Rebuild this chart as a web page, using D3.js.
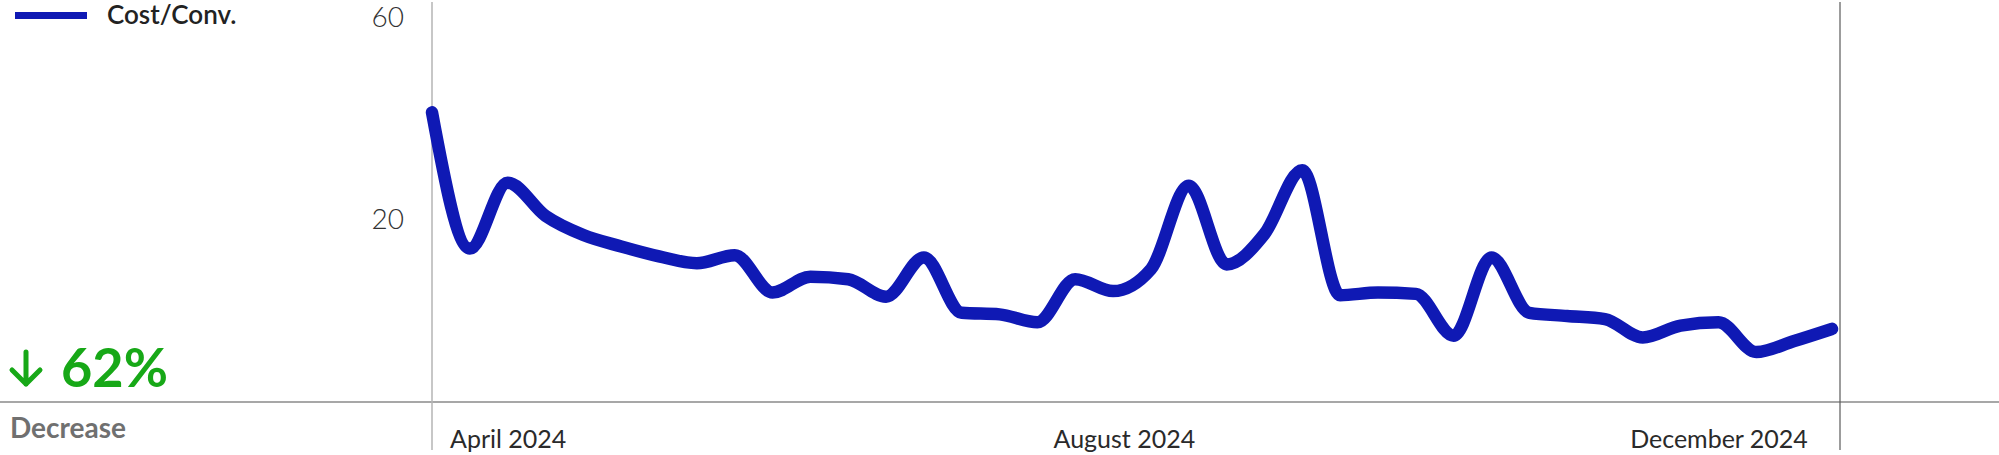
<!DOCTYPE html>
<html>
<head>
<meta charset="utf-8">
<script src="https://cdn.jsdelivr.net/npm/d3@7"></script>
<style>
  html, body { margin: 0; padding: 0; background: #ffffff; }
  svg { display: block; }
  text { font-family: Lato, "Noto Sans", sans-serif; }
</style>
</head>
<body>
<svg id="chart" width="1999" height="455"></svg>
<script>
// ---- data ----
const weeks = [
  "2024-04-08","2024-04-15","2024-04-22","2024-04-29","2024-05-06","2024-05-13","2024-05-20","2024-05-27",
  "2024-06-03","2024-06-10","2024-06-17","2024-06-24","2024-07-01","2024-07-08","2024-07-15","2024-07-22",
  "2024-07-29","2024-08-05","2024-08-12","2024-08-19","2024-08-26","2024-09-02","2024-09-09","2024-09-16",
  "2024-09-23","2024-09-30","2024-10-07","2024-10-14","2024-10-21","2024-10-28","2024-11-04","2024-11-11",
  "2024-11-18","2024-11-25","2024-12-02","2024-12-09","2024-12-16","2024-12-23"
];
const costPerConv = [
  35.6, 17.0, 24.3, 20.3, 18.3, 17.2, 16.3, 15.7, 16.4, 13.4, 14.6, 14.4, 13.1,
  16.2, 12.0, 11.9, 11.4, 14.4, 13.5, 15.2, 23.9, 15.6, 18.4, 26.0, 13.2, 13.4,
  13.3, 10.6, 16.2, 12.0, 11.8, 11.6, 10.5, 11.2, 11.4, 9.7, 10.3, 11.0
];
const seriesName = "Cost/Conv.";
const yTickValues = [20, 60];
const xTickDates = ["2024-04-22", "2024-08-14", "2024-12-02"];
const changeLabel = "62%";
const changeCaption = "Decrease";

// ---- layout ----
const W = 1999, H = 455;
const baseY = 402;
const plotLeft = 432, plotRight = 1832, frameRight = 1840;
const lineColor = "#0f19b4";

const parse = d3.timeParse("%Y-%m-%d");
const data = weeks.map((w, i) => ({ date: parse(w), value: costPerConv[i] }));

const svg = d3.select("#chart");

const x = d3.scaleTime()
  .domain(d3.extent(data, d => d.date))
  .range([plotLeft, plotRight]);

const y = d3.scaleLog()
  .domain([7.4, 60])
  .range([baseY, 16]);

// frame lines
svg.append("line")
  .attr("x1", 0).attr("x2", W)
  .attr("y1", baseY).attr("y2", baseY)
  .attr("stroke", "#8a8a8a").attr("stroke-width", 1.5);
svg.append("line")
  .attr("x1", plotLeft).attr("x2", plotLeft)
  .attr("y1", 2).attr("y2", 450)
  .attr("stroke", "#b5b5b5").attr("stroke-width", 1.5);
svg.append("line")
  .attr("x1", frameRight).attr("x2", frameRight)
  .attr("y1", 2).attr("y2", 450)
  .attr("stroke", "#5a5a5a").attr("stroke-width", 1.2);

// y axis
const yAxis = svg.append("g")
  .attr("transform", `translate(${plotLeft},0)`)
  .call(d3.axisLeft(y).tickValues(yTickValues).tickSize(0).tickPadding(28).tickFormat(d3.format("d")));
yAxis.select(".domain").remove();
yAxis.selectAll("text")
  .attr("font-family", "Lato, sans-serif")
  .attr("font-size", 28)
  .attr("font-weight", 300)
  .attr("fill", "#333")
  .attr("dy", "0.36em");

// x axis
const xAxis = svg.append("g")
  .attr("transform", `translate(0,${baseY})`)
  .call(d3.axisBottom(x).tickValues(xTickDates.map(parse)).tickSize(0).tickFormat(d3.timeFormat("%B %Y")));
xAxis.select(".domain").remove();
xAxis.selectAll("text")
  .attr("font-family", "Lato, sans-serif")
  .attr("font-size", 25)
  .attr("fill", "#2a2a2a")
  .attr("y", 46)
  .attr("dy", 0);

// series line
const line = d3.line()
  .x(d => x(d.date))
  .y(d => y(d.value))
  .curve(d3.curveMonotoneX);

svg.append("path")
  .datum(data)
  .attr("d", line)
  .attr("fill", "none")
  .attr("stroke", lineColor)
  .attr("stroke-width", 12.5)
  .attr("stroke-linejoin", "round")
  .attr("stroke-linecap", "round");

// legend
svg.append("line")
  .attr("x1", 15).attr("x2", 87)
  .attr("y1", 15.5).attr("y2", 15.5)
  .attr("stroke", lineColor).attr("stroke-width", 7);
svg.append("text")
  .attr("x", 107).attr("y", 24)
  .attr("font-size", 26).attr("font-weight", 600)
  .attr("fill", "#222")
  .text(seriesName);

// change indicator
const green = "#17a817";
svg.append("path")
  .attr("d", "M26,352 L26,384 M12,370 L26,384 L40,370")
  .attr("fill", "none")
  .attr("stroke", green)
  .attr("stroke-width", 5)
  .attr("stroke-linecap", "round")
  .attr("stroke-linejoin", "round");
svg.append("text")
  .attr("x", 61).attr("y", 387)
  .attr("font-size", 54).attr("font-weight", 700)
  .attr("fill", green)
  .text(changeLabel);

svg.append("text")
  .attr("x", 10).attr("y", 438)
  .attr("font-size", 28).attr("font-weight", 700)
  .attr("fill", "#707070")
  .text(changeCaption);
</script>
</body>
</html>
